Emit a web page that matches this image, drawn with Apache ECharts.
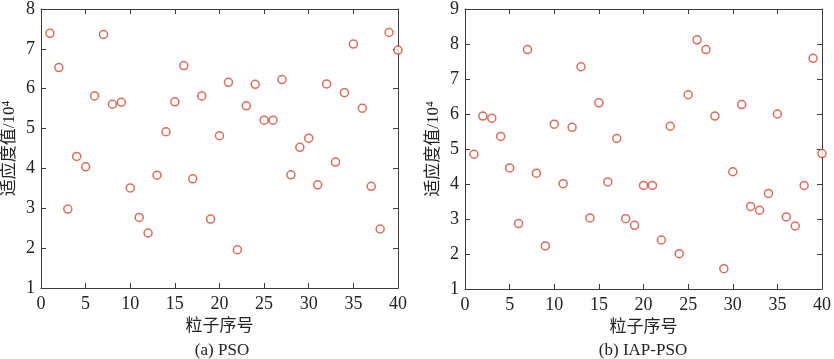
<!DOCTYPE html>
<html>
<head>
<meta charset="utf-8">
<script src="https://cdn.jsdelivr.net/npm/echarts@6/dist/echarts.min.js"></script>
<style>
html,body{margin:0;padding:0;background:#fff;}
#c{width:834px;height:359px;}
</style>
</head>
<body>
<div id="c"></div>
<script>
const particles = Array.from({length: 40}, (_, i) => i + 1);
const psoValues = [7.39,6.53,2.98,4.30,4.04,5.82,7.36,5.61,5.66,3.51,2.77,2.38,3.83,4.92,5.67,6.58,3.74,5.82,2.73,4.82,6.16,1.96,5.57,6.11,5.21,5.21,6.23,3.84,4.53,4.76,3.59,6.12,4.16,5.90,7.12,5.51,3.55,2.48,7.41,6.97];
const iapValues = [4.85,5.94,5.88,5.36,4.46,2.87,7.84,4.31,2.23,5.71,4.01,5.62,7.35,3.03,6.32,4.06,5.30,3.01,2.82,3.96,3.96,2.40,5.65,2.01,6.55,8.12,7.84,5.94,1.58,4.35,6.27,3.36,3.25,3.73,6.00,3.06,2.80,3.96,7.59,4.87];
const xLabel = '粒子序号';
const yLabel = '适应度值/10⁴';
const subtitles = ['(a) PSO', '(b) IAP-PSO'];

const FONT = '"Liberation Serif", "Noto Sans CJK SC", serif';
const AX = '#3a3a3a';
const MK = '#cc4a36';

function xAxes(g){
  const base = {gridIndex:g, type:'value', min:0, max:40, interval:5,
    axisLine:{show:true, onZero:false, lineStyle:{color:AX, width:1}},
    axisTick:{show:true, inside:true, length:5, lineStyle:{color:AX}},
    splitLine:{show:false}};
  return [
    Object.assign({}, base, {position:'bottom',
      axisLabel:{color:'#222', fontFamily:FONT, fontSize:18, margin:7},
      name:xLabel, nameLocation:'middle', nameGap:29,
      nameTextStyle:{color:'#222', fontFamily:FONT, fontSize:17}}),
    Object.assign({}, base, {position:'top', axisLabel:{show:false}})
  ];
}
function yAxes(g, max){
  const base = {gridIndex:g, type:'value', min:1, max:max, interval:1,
    axisLine:{show:true, onZero:false, lineStyle:{color:AX, width:1}},
    axisTick:{show:true, inside:true, length:5, lineStyle:{color:AX}},
    splitLine:{show:false}};
  return [
    Object.assign({}, base, {position:'left',
      axisLabel:{color:'#222', fontFamily:FONT, fontSize:18, margin:6},
      name:yLabel, nameLocation:'middle', nameGap:23, nameRotate:90,
      nameTextStyle:{color:'#222', fontFamily:FONT, fontSize:17}}),
    Object.assign({}, base, {position:'right', axisLabel:{show:false}})
  ];
}

const chart = echarts.init(document.getElementById('c'), null, {renderer:'canvas'});
const mkSeries = (vals, xi, yi) => ({
  type:'scatter', xAxisIndex:xi, yAxisIndex:yi,
  data: particles.map((p, i) => [p, vals[i]]),
  symbol:'circle', symbolSize:8,
  itemStyle:{color:'#fff', borderColor:MK, borderWidth:1.5},
  emphasis:{disabled:true}, silent:true
});
chart.setOption({
  animation:false,
  backgroundColor:'#fff',
  title:[
    {text:subtitles[0], left:217, top:337, textAlign:'center',
     textStyle:{fontFamily:FONT, fontSize:17, fontWeight:'normal', color:'#222'}},
    {text:subtitles[1], left:638, top:337, textAlign:'center',
     textStyle:{fontFamily:FONT, fontSize:17, fontWeight:'normal', color:'#222'}}
  ],
  grid:[
    {left:40, top:6, width:358, height:282},
    {left:465, top:7, width:357, height:282}
  ],
  xAxis:[...xAxes(0), ...xAxes(1)],
  yAxis:[...yAxes(0, 8), ...yAxes(1, 9)],
  series:[mkSeries(psoValues, 0, 0), mkSeries(iapValues, 2, 2)]
});
</script>
</body>
</html>
